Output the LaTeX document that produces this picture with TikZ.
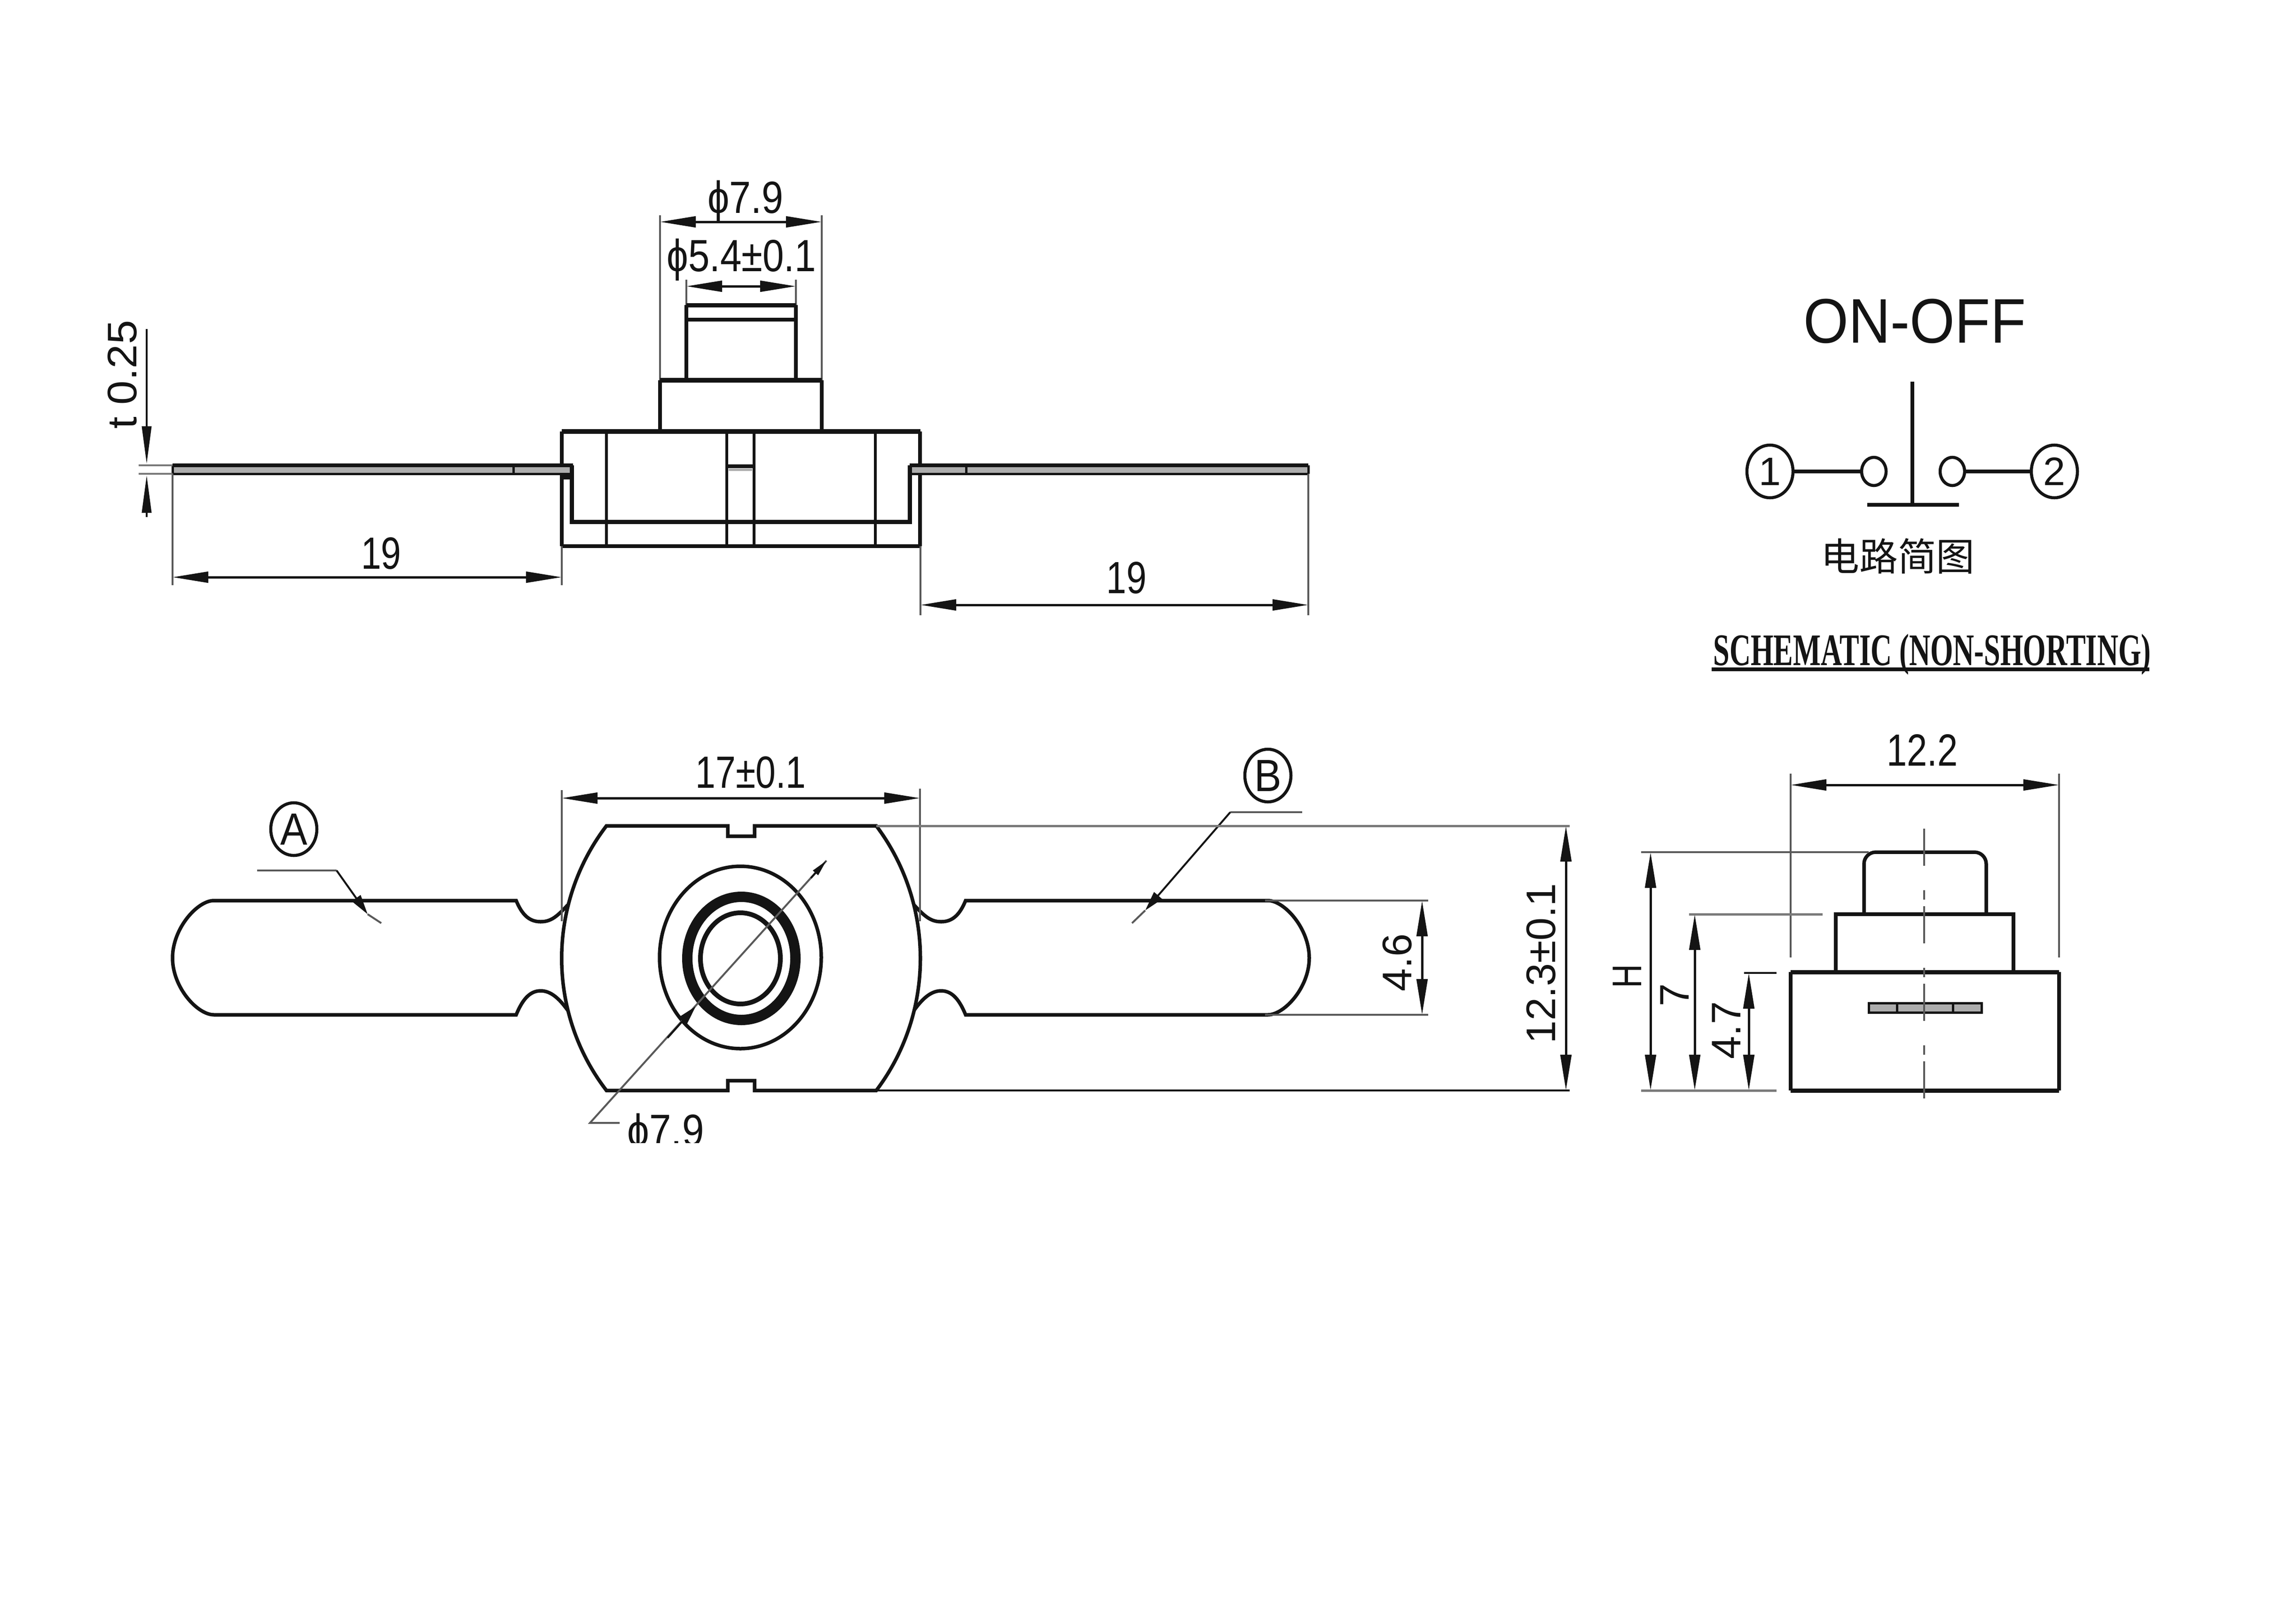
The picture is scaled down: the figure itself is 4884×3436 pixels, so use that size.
\documentclass[tikz,border=0pt]{standalone}
\usepackage{graphicx}
\usepackage{fontspec}
\setmainfont{Liberation Sans}
\newfontfamily\cjk{Noto Sans CJK SC}
\newfontfamily\schem{Liberation Serif}
\usetikzlibrary{arrows.meta,shapes.geometric}
\definecolor{ink}{gray}{0.08}
\definecolor{soft}{gray}{0.35}
\definecolor{stripfill}{gray}{0.68}
\tikzset{
  x=0.01cm,y=-0.01cm,
  outline/.style={draw=ink,line width=0.075cm},
  heavy/.style={draw=ink,line width=0.1cm},
  fine/.style={draw=soft,line width=0.04cm},
  faint/.style={draw=soft!80,line width=0.05cm},
  dimarrow/.style={draw=ink,line width=0.05cm,{Triangle[length=0.76cm,width=0.23cm]}-{Triangle[length=0.76cm,width=0.23cm]}},
  headarrow/.style={draw=ink,line width=0.04cm,-{Triangle[length=0.42cm,width=0.22cm]}},
  lab/.style={inner sep=0pt,anchor=base,text=ink,font=\fontsize{27.3pt}{30pt}\selectfont},
  sidelab/.style={inner sep=0pt,anchor=base,rotate=90,text=ink,font=\fontsize{25pt}{28pt}\selectfont},
  balloon/.style={shape=ellipse,draw=ink,line width=0.065cm,inner sep=0pt,minimum width=0.98cm,minimum height=1.12cm,text=ink,font=\fontsize{24pt}{26pt}\selectfont},
  terminal/.style={shape=ellipse,draw=ink,line width=0.065cm,inner sep=0pt,minimum width=0.52cm,minimum height=0.6cm},
  axisline/.style={draw=soft,line width=0.045cm,dash pattern=on 0.79cm off 0.52cm on 0.2cm off 0.14cm},
}
\newcommand{\sx}[2]{\scalebox{#1}[1]{#2}}
\begin{document}
\begin{tikzpicture}
\useasboundingbox[fill=white] (0,0) rectangle (4884,3436);

% ---------- front view ----------
\draw[fine] (1404,458) -- (1404,809);
\draw[fine] (1748,458) -- (1748,809);
\draw[fine] (1460,595) -- (1460,649);
\draw[fine] (1693,595) -- (1693,649);
\draw[dimarrow] (1404,472) -- (1748,472);
\draw[dimarrow] (1460,609) -- (1693,609);
\node[lab] (t79a) at (1586,453) {\sx{.86}{ϕ7.9}};
\node[lab] (t54) at (1577,577) {\sx{.85}{ϕ5.4±0.1}};

\draw[heavy,line width=0.09cm] (1460,649) -- (1693,649);
\draw[outline] (1460,680) -- (1693,680);
\draw[outline] (1460,649) -- (1460,809);
\draw[outline] (1693,649) -- (1693,809);
\draw[heavy] (1404,809) -- (1748,809);
\draw[outline] (1404,809) -- (1404,918);
\draw[outline] (1748,809) -- (1748,918);

\draw[heavy] (1195,918) -- (1958,918);
\draw[heavy,line width=0.08cm] (1195,1162) -- (1958,1162);
\draw[outline] (1195,918) -- (1195,1162);
\draw[outline] (1957,918) -- (1957,1162);
\foreach \vx in {1289.5,1546,1603.5,1862}
  \draw[outline,line width=0.06cm] (\vx,918) -- (\vx,1162);
\draw[heavy,line width=0.08cm] (1546,992) -- (1603,992);
\draw[stripfill,line width=0.05cm] (1550,999) -- (1600,999);

% terminals in the front view
\filldraw[fill=stripfill,draw=none] (367,990) rectangle (1219,1008);
\filldraw[fill=stripfill,draw=none] (1935,990) rectangle (2783,1008);
\draw[heavy,line width=0.085cm] (367,990) -- (1219,990);
\draw[outline,line width=0.05cm] (367,1008) -- (1219,1008);
\draw[heavy,line width=0.085cm] (1935,990) -- (2783,990);
\draw[outline,line width=0.05cm] (1935,1008) -- (2783,1008);
\draw[outline,line width=0.05cm] (367,990) -- (367,1008);
\draw[outline,line width=0.05cm] (2783,990) -- (2783,1008);
\draw[outline,line width=0.05cm] (1092,990) -- (1092,1008);
\draw[outline,line width=0.05cm] (2055,990) -- (2055,1008);
\draw[heavy,line width=0.09cm] (1216,990) -- (1216,1110) -- (1935,1110) -- (1935,990);
\fill[ink] (1198,1008) rectangle (1216,1020);

% dimensions of the front view
\draw[fine] (367,1008) -- (367,1245);
\draw[fine] (1195,1162) -- (1195,1245);
\draw[fine] (1958,1162) -- (1958,1309);
\draw[fine] (2783,1008) -- (2783,1309);
\draw[dimarrow] (367,1228) -- (1195,1228);
\draw[dimarrow] (1958,1287) -- (2783,1287);
\node[lab] (t19a) at (811,1210) {\sx{.8}{19}};
\node[lab] (t19b) at (2396,1262) {\sx{.8}{19}};
\draw[faint,line width=0.035cm] (295,990) -- (367,990);
\draw[faint,line width=0.035cm] (295,1008) -- (367,1008);
\draw[draw=ink,line width=0.04cm,-{Triangle[length=0.8cm,width=0.2cm]}] (312,700) -- (312,987);
\draw[draw=ink,line width=0.04cm,-{Triangle[length=0.8cm,width=0.2cm]}] (312,1100) -- (312,1011);
\node[sidelab] (t025) at (290,797) {\sx{1.05}{t 0.25}};

% ---------- plan view ----------
\draw[outline] (1290,1757) -- (1548,1757) -- (1548,1779) -- (1605,1779) -- (1605,1757) -- (1864,1757)
  .. controls (1989,1923) and (1989,2155) .. (1864,2320)
  -- (1605,2320) -- (1605,2299) -- (1548,2299) -- (1548,2320) -- (1290,2320)
  .. controls (1163,2155) and (1163,1923) .. (1290,1757) -- cycle;

\draw[outline] (1208,1925) .. controls (1185,1950) and (1172,1961) .. (1150,1961)
  .. controls (1125,1961) and (1110,1945) .. (1098,1916) -- (455,1916)
  .. controls (420,1916) and (367,1975) .. (367,2038)
  .. controls (367,2101) and (420,2159) .. (455,2159) -- (1098,2159)
  .. controls (1110,2130) and (1125,2108) .. (1150,2108)
  .. controls (1172,2108) and (1190,2125) .. (1208,2150);
\draw[outline] (1944,1925) .. controls (1967,1950) and (1980,1961) .. (2002,1961)
  .. controls (2027,1961) and (2042,1945) .. (2054,1916) -- (2697,1916)
  .. controls (2732,1916) and (2785,1975) .. (2785,2038)
  .. controls (2785,2101) and (2732,2159) .. (2697,2159) -- (2054,2159)
  .. controls (2042,2130) and (2027,2108) .. (2002,2108)
  .. controls (1980,2108) and (1962,2125) .. (1944,2150);

\draw[outline] (1575,2037) ellipse [x radius=172,y radius=194];
\draw[draw=ink,line width=0.22cm] (1577,2039) ellipse [x radius=115,y radius=131];
\draw[heavy] (1575,2039) ellipse [x radius=85,y radius=97];

% balloons and leaders
\node[balloon,font=\fontsize{27.3pt}{30pt}\selectfont] (balA) at (625,1764) {\sx{.9}{A}};
\node[balloon,font=\fontsize{27.3pt}{30pt}\selectfont] (balB) at (2697,1650) {\sx{.9}{B}};
\coordinate (leadAend) at (547,1852);
\coordinate (leadAelbow) at (716,1852);
\coordinate (leadAtip) at (782,1945);
\coordinate (leadAfoot) at (811,1964);
\draw[fine] (leadAend) -- (leadAelbow);
\draw[headarrow] (leadAelbow) -- (leadAtip);
\draw[fine] (leadAtip) -- (leadAfoot);
\coordinate (leadBend) at (2770,1728);
\coordinate (leadBelbow) at (2617,1728);
\coordinate (leadBtip) at (2436,1937);
\coordinate (leadBfoot) at (2408,1964);
\draw[fine] (leadBend) -- (leadBelbow);
\draw[headarrow] (leadBelbow) -- (leadBtip);
\draw[fine] (leadBtip) -- (leadBfoot);

% diameter leader
\coordinate (diaTop) at (1758,1831);
\coordinate (diaElbow) at (1255,2389);
\coordinate (diaEnd) at (1318,2389);
\draw[fine] (diaEnd) -- (diaElbow) -- (diaTop);
\draw[headarrow] (1420,2208) -- (1480,2141);
\draw[draw=ink,line width=0.04cm,-{Triangle[length=0.35cm,width=0.14cm]}] (1725,1868) -- (diaTop);
\begin{scope}
  \clip (1200,2300) rectangle (1700,2431);
  \node[lab] (t79b) at (1416,2438) {\sx{.87}{ϕ7.9}};
\end{scope}

% dimensions of the plan view
\draw[fine] (1195,1681) -- (1195,1960);
\draw[fine] (1957,1678) -- (1957,1960);
\draw[dimarrow] (1195,1698) -- (1957,1698);
\node[lab] (t17) at (1597,1676) {\sx{.8}{17±0.1}};
\draw[faint] (1864,1757) -- (3339,1757);
\draw[outline,line width=0.04cm] (1864,2320) -- (3339,2320);
\draw[dimarrow] (3331,1757) -- (3331,2320);
\node[sidelab] (t123) at (3308,2050) {12.3±0.1};
\draw[fine] (2691,1916) -- (3038,1916);
\draw[fine] (2691,2159) -- (3038,2159);
\draw[dimarrow] (3025,1916) -- (3025,2159);
\node[sidelab] (t46) at (3002,2048) {4.6};

% ---------- side view ----------
\draw[heavy,line width=0.09cm] (3809,2068) -- (4380,2068);
\draw[heavy,line width=0.09cm] (3809,2320) -- (4380,2320);
\draw[outline] (3809,2068) -- (3809,2320);
\draw[outline] (4380,2068) -- (4380,2320);
\draw[outline] (3905,2068) -- (3905,1945) -- (4283,1945) -- (4283,2068);
\draw[outline,rounded corners=0.25cm] (3965,1945) -- (3965,1813) -- (4225,1813) -- (4225,1945);
\filldraw[fill=stripfill,draw=ink,line width=0.05cm] (3975,2134) rectangle (4215,2154);
\draw[ink,line width=0.05cm] (4035,2134) -- (4035,2154);
\draw[ink,line width=0.05cm] (4154,2134) -- (4154,2154);
\draw[axisline] (4093,1763) -- (4093,2344);

\draw[fine] (3809,1646) -- (3809,2037);
\draw[fine] (4380,1646) -- (4380,2037);
\draw[dimarrow] (3809,1670) -- (4380,1670);
\node[lab] (t122) at (4089,1629) {\sx{.81}{12.2}};
\draw[fine] (3491,1813) -- (3975,1813);
\draw[faint] (3593,1945) -- (3877,1945);
\draw[ink,line width=0.04cm] (3710,2070) -- (3779,2070);
\draw[faint] (3491,2320) -- (3779,2320);
\draw[dimarrow] (3511,1813) -- (3511,2320);
\draw[dimarrow] (3605,1945) -- (3605,2320);
\draw[dimarrow] (3720,2070) -- (3720,2320);
\node[sidelab] (tH) at (3491,2077) {\sx{.8}{H}};
\node[sidelab] (t7) at (3592,2117) {7};
\node[sidelab] (t47) at (3702,2192) {4.7};

% ---------- schematic ----------
\node[lab,font=\fontsize{38.1pt}{42pt}\selectfont] (title) at (4073,729) {\sx{.92}{ON-OFF}};
\node[balloon] (p1) at (3765,1003) {1};
\node[balloon] (p2) at (4370,1003) {2};
\node[terminal] (c1) at (3986,1003) {};
\node[terminal] (c2) at (4153,1003) {};
\draw[outline] (p1) -- (c1);
\draw[outline] (c2) -- (p2);
\coordinate (plunger) at (4068,812);
\coordinate (bar) at (4068,1074);
\coordinate (barL) at (3972,1074);
\coordinate (barR) at (4167,1074);
\draw[outline] (plunger) -- (bar);
\draw[outline,line width=0.08cm] (barL) -- (barR);
\node[lab,anchor=center,font=\fontsize{23.3pt}{26pt}\selectfont] (cap) at (4037,1183) {\cjk 电路简图};
\node[lab] (sch) at (4110,1415) {\sx{.65}{\schem\bfseries SCHEMATIC\ (NON-SHORTING)}};
\coordinate (ulL) at (3641,1424);
\coordinate (ulR) at (4572,1424);
\draw[outline] (ulL) -- (ulR);
\end{tikzpicture}
\end{document}
